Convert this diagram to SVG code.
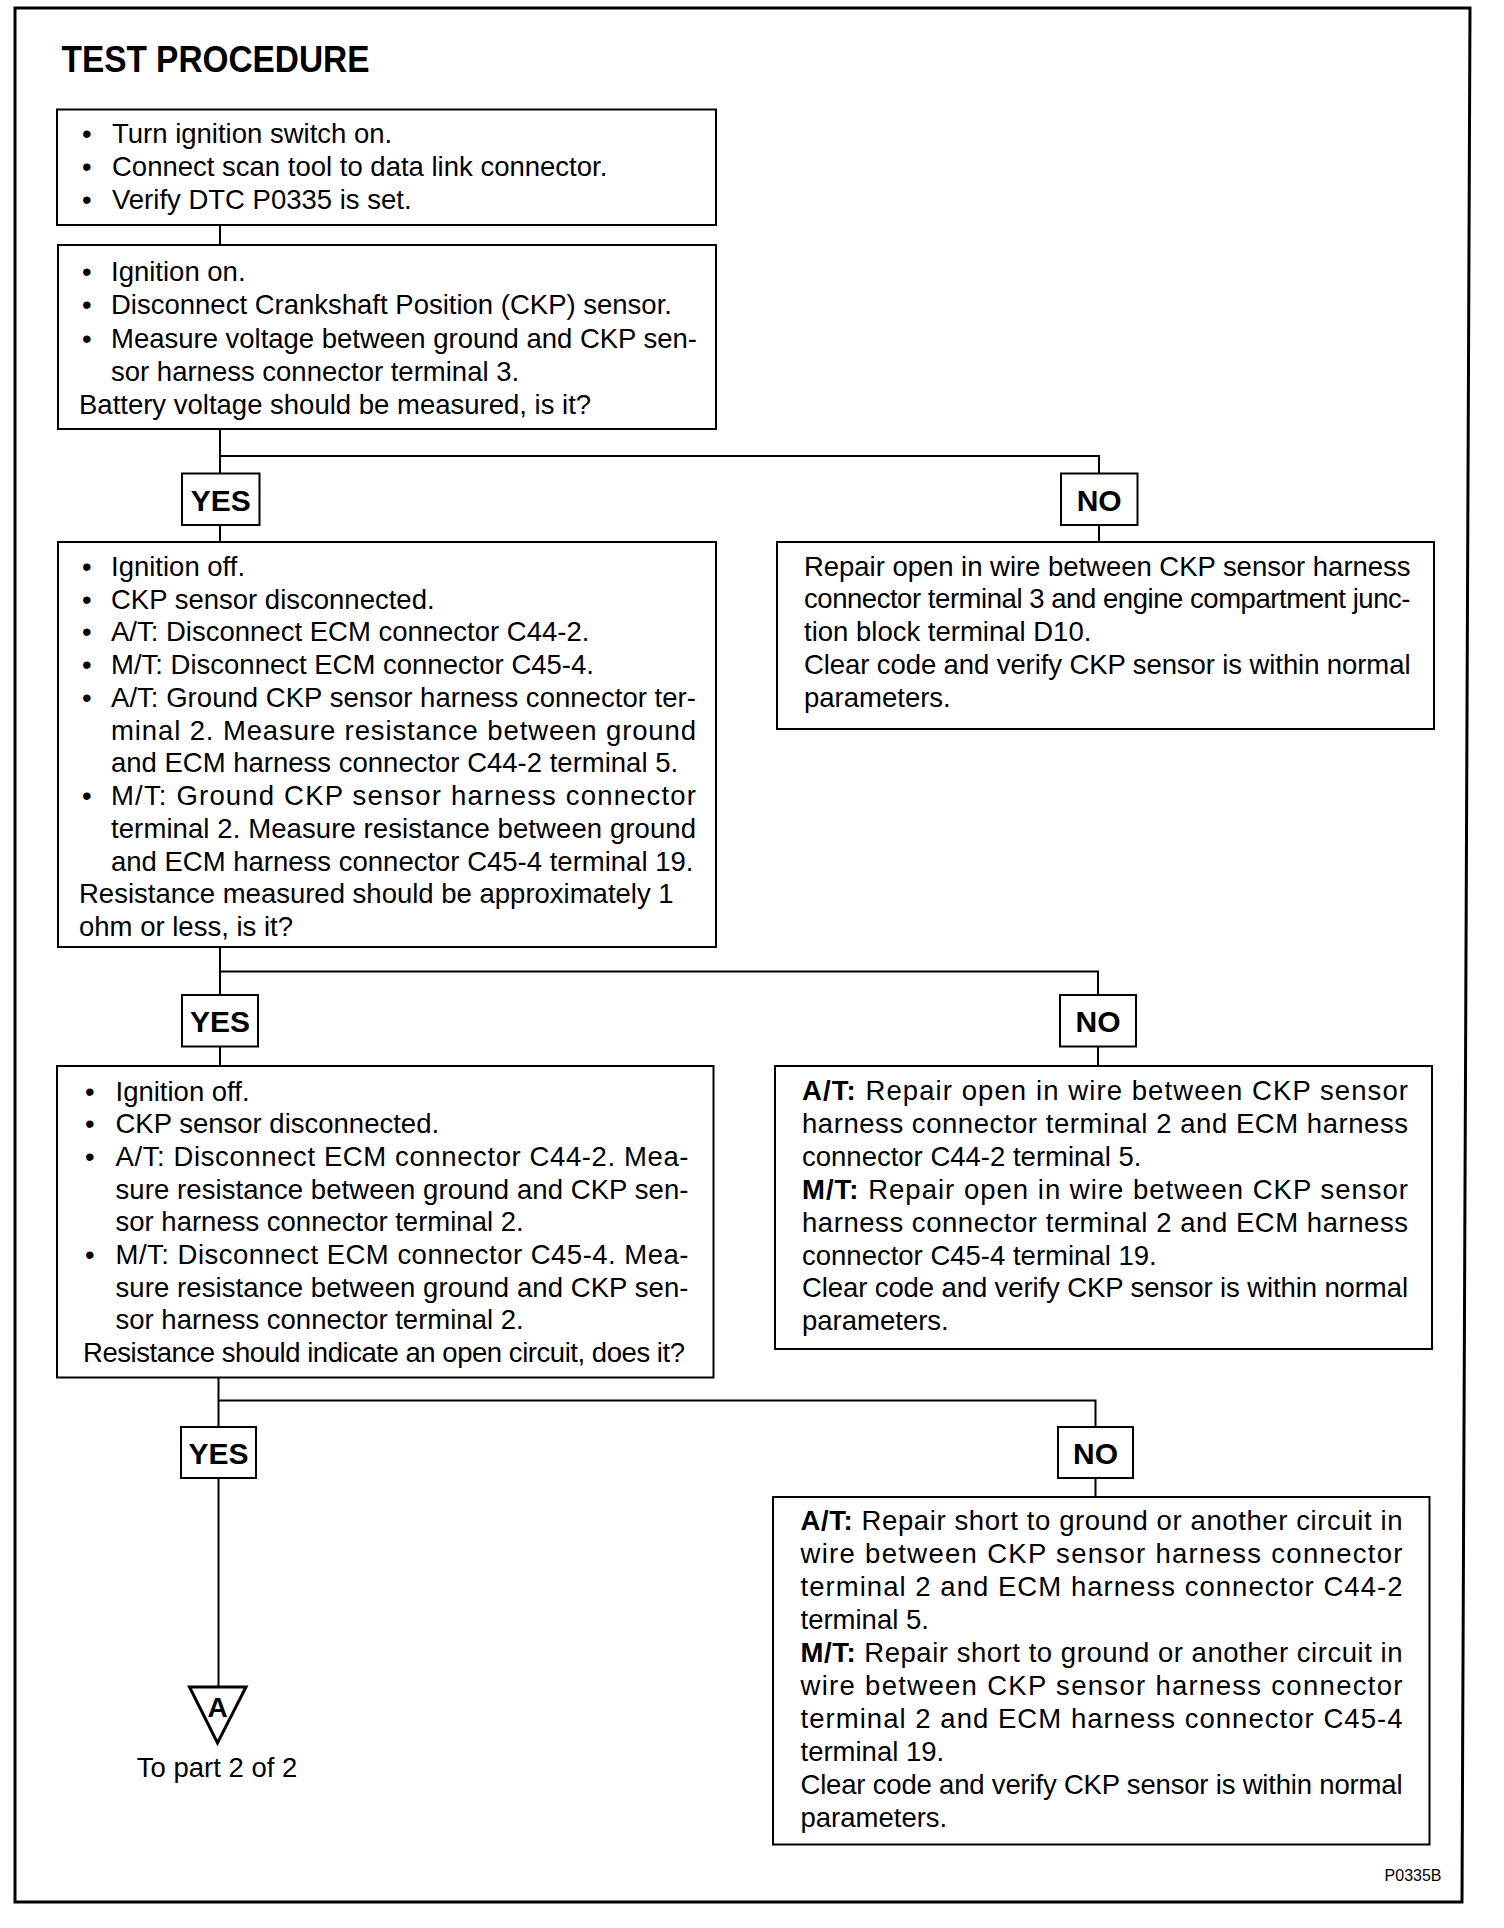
<svg xmlns="http://www.w3.org/2000/svg" width="1504" height="1928" viewBox="0 0 1504 1928">
<style>
.bx{fill:none;stroke:#000;stroke-width:2}
.ln{fill:none;stroke:#000;stroke-width:2}
.t{font-family:"Liberation Sans",Arial,Helvetica,sans-serif;font-size:27.5px;fill:#000}
.b{font-weight:bold}
.lbl{font-family:"Liberation Sans",Arial,Helvetica,sans-serif;font-size:30px;font-weight:bold;text-anchor:middle;fill:#000}
</style>
<rect x="0" y="0" width="1504" height="1928" fill="#fff"/>
<path d="M15,8 L1470,8 L1462,1902 L15,1902 Z" fill="none" stroke="#000" stroke-width="3"/>
<text id="title" x="61.5" y="72" font-family="Liberation Sans,Arial,sans-serif" font-size="36" font-weight="bold" textLength="308" lengthAdjust="spacingAndGlyphs">TEST PROCEDURE</text>

<g id="connectors">
<path class="ln" d="M220,225 V245"/>
<path class="ln" d="M220,429 V473.5"/>
<path class="ln" d="M220,456 H1099 V473.5"/>
<path class="ln" d="M220,525 V542"/>
<path class="ln" d="M1099,525 V542"/>
<path class="ln" d="M220,947 V995"/>
<path class="ln" d="M220,971.5 H1098 V995"/>
<path class="ln" d="M220,1046.5 V1066"/>
<path class="ln" d="M1098,1046.5 V1066"/>
<path class="ln" d="M218.5,1377.5 V1427"/>
<path class="ln" d="M218.5,1400.5 H1095.5 V1427"/>
<path class="ln" d="M218.5,1478 V1687"/>
<path class="ln" d="M1095.5,1478 V1497"/>
</g>

<g id="step1">
<rect class="bx" x="57" y="109.5" width="659" height="115.5"/>
<text class="t" x="82" y="142.5">•</text><text class="t" x="112" y="142.5">Turn ignition switch on.</text>
<text class="t" x="82" y="175.8">•</text><text class="t" x="112" y="175.8">Connect scan tool to data link connector.</text>
<text class="t" x="82" y="209">•</text><text class="t" x="112" y="209">Verify DTC P0335 is set.</text>
</g>

<g id="step2">
<rect class="bx" x="58" y="245" width="658" height="184"/>
<text class="t" x="82" y="281">•</text><text class="t" x="111" y="281">Ignition on.</text>
<text class="t" x="82" y="314.3">•</text><text class="t" x="111" y="314.3">Disconnect Crankshaft Position (CKP) sensor.</text>
<text class="t" x="82" y="347.6">•</text><text class="t" x="111" y="347.6" textLength="586">Measure voltage between ground and CKP sen-</text>
<text class="t" x="111" y="381">sor harness connector terminal 3.</text>
<text class="t" x="79" y="414.3">Battery voltage should be measured, is it?</text>
</g>

<g id="yes1"><rect class="bx" x="182" y="473.5" width="77.5" height="51.5"/><text class="lbl" x="220.7" y="510.5">YES</text></g>
<g id="no1"><rect class="bx" x="1061" y="473.5" width="76.5" height="51.5"/><text class="lbl" x="1099.2" y="510.5">NO</text></g>

<g id="step3">
<rect class="bx" x="58" y="542" width="658" height="405"/>
<text class="t" x="82" y="575.7">•</text><text class="t" x="111" y="575.7">Ignition off.</text>
<text class="t" x="82" y="608.5">•</text><text class="t" x="111" y="608.5">CKP sensor disconnected.</text>
<text class="t" x="82" y="641.2">•</text><text class="t" x="111" y="641.2">A/T: Disconnect ECM connector C44-2.</text>
<text class="t" x="82" y="674">•</text><text class="t" x="111" y="674">M/T: Disconnect ECM connector C45-4.</text>
<text class="t" x="82" y="706.7">•</text><text class="t" x="111" y="706.7" textLength="585">A/T: Ground CKP sensor harness connector ter-</text>
<text class="t" x="111" y="739.5" textLength="585">minal 2. Measure resistance between ground</text>
<text class="t" x="111" y="772.3">and ECM harness connector C44-2 terminal 5.</text>
<text class="t" x="82" y="805">•</text><text class="t" x="111" y="805" textLength="585">M/T: Ground CKP sensor harness connector</text>
<text class="t" x="111" y="837.8" textLength="585">terminal 2. Measure resistance between ground</text>
<text class="t" x="111" y="870.5">and ECM harness connector C45-4 terminal 19.</text>
<text class="t" x="79" y="903.3">Resistance measured should be approximately 1</text>
<text class="t" x="79" y="936.1">ohm or less, is it?</text>
</g>

<g id="repair1">
<rect class="bx" x="777" y="542" width="657" height="187"/>
<text class="t" x="804" y="575.7" textLength="606.5">Repair open in wire between CKP sensor harness</text>
<text class="t" x="804" y="608.4" textLength="606.5">connector terminal 3 and engine compartment junc-</text>
<text class="t" x="804" y="641.2">tion block terminal D10.</text>
<text class="t" x="804" y="674" textLength="606.5">Clear code and verify CKP sensor is within normal</text>
<text class="t" x="804" y="706.7">parameters.</text>
</g>

<g id="yes2"><rect class="bx" x="182" y="995" width="76" height="51.5"/><text class="lbl" x="220" y="1032">YES</text></g>
<g id="no2"><rect class="bx" x="1060" y="995" width="76" height="51.5"/><text class="lbl" x="1098" y="1032">NO</text></g>

<g id="step4">
<rect class="bx" x="57" y="1066" width="656.5" height="311.5"/>
<text class="t" x="85" y="1100.5">•</text><text class="t" x="115.5" y="1100.5">Ignition off.</text>
<text class="t" x="85" y="1133.2">•</text><text class="t" x="115.5" y="1133.2">CKP sensor disconnected.</text>
<text class="t" x="85" y="1165.9">•</text><text class="t" x="115.5" y="1165.9" textLength="573">A/T: Disconnect ECM connector C44-2. Mea-</text>
<text class="t" x="115.5" y="1198.6" textLength="573">sure resistance between ground and CKP sen-</text>
<text class="t" x="115.5" y="1231.3">sor harness connector terminal 2.</text>
<text class="t" x="85" y="1264">•</text><text class="t" x="115.5" y="1264" textLength="573">M/T: Disconnect ECM connector C45-4. Mea-</text>
<text class="t" x="115.5" y="1296.7" textLength="573">sure resistance between ground and CKP sen-</text>
<text class="t" x="115.5" y="1329.4">sor harness connector terminal 2.</text>
<text class="t" x="83" y="1362.1" textLength="602">Resistance should indicate an open circuit, does it?</text>
</g>

<g id="repair2">
<rect class="bx" x="775" y="1066" width="657" height="283"/>
<text class="t" x="802" y="1100" textLength="606"><tspan class="b">A/T:</tspan> Repair open in wire between CKP sensor</text>
<text class="t" x="802" y="1132.9" textLength="606">harness connector terminal 2 and ECM harness</text>
<text class="t" x="802" y="1165.8">connector C44-2 terminal 5.</text>
<text class="t" x="802" y="1198.7" textLength="606"><tspan class="b">M/T:</tspan> Repair open in wire between CKP sensor</text>
<text class="t" x="802" y="1231.6" textLength="606">harness connector terminal 2 and ECM harness</text>
<text class="t" x="802" y="1264.5">connector C45-4 terminal 19.</text>
<text class="t" x="802" y="1297.4" textLength="606">Clear code and verify CKP sensor is within normal</text>
<text class="t" x="802" y="1330.3">parameters.</text>
</g>

<g id="yes3"><rect class="bx" x="181" y="1427" width="75" height="51"/><text class="lbl" x="218.5" y="1463.5">YES</text></g>
<g id="no3"><rect class="bx" x="1058" y="1427" width="75" height="51"/><text class="lbl" x="1095.5" y="1463.5">NO</text></g>

<g id="repair3">
<rect class="bx" x="773" y="1497" width="656.5" height="347.5"/>
<text class="t" x="800.5" y="1530" textLength="602"><tspan class="b">A/T:</tspan> Repair short to ground or another circuit in</text>
<text class="t" x="800.5" y="1563" textLength="602">wire between CKP sensor harness connector</text>
<text class="t" x="800.5" y="1596" textLength="602">terminal 2 and ECM harness connector C44-2</text>
<text class="t" x="800.5" y="1629">terminal 5.</text>
<text class="t" x="800.5" y="1662" textLength="602"><tspan class="b">M/T:</tspan> Repair short to ground or another circuit in</text>
<text class="t" x="800.5" y="1695" textLength="602">wire between CKP sensor harness connector</text>
<text class="t" x="800.5" y="1728" textLength="602">terminal 2 and ECM harness connector C45-4</text>
<text class="t" x="800.5" y="1761">terminal 19.</text>
<text class="t" x="800.5" y="1794" textLength="602">Clear code and verify CKP sensor is within normal</text>
<text class="t" x="800.5" y="1827">parameters.</text>
</g>

<g id="offpage-A">
<polygon points="189.5,1687 246,1687 217.5,1743" fill="none" stroke="#000" stroke-width="3" stroke-linejoin="miter"/>
<text x="217.5" y="1717" font-family="Liberation Sans,Arial,sans-serif" font-size="28" font-weight="bold" text-anchor="middle">A</text>
<text class="t" x="217" y="1777" text-anchor="middle">To part 2 of 2</text>
</g>

<text id="figid" x="1441.5" y="1881" font-family="Liberation Sans,Arial,sans-serif" font-size="16" text-anchor="end">P0335B</text>
</svg>
